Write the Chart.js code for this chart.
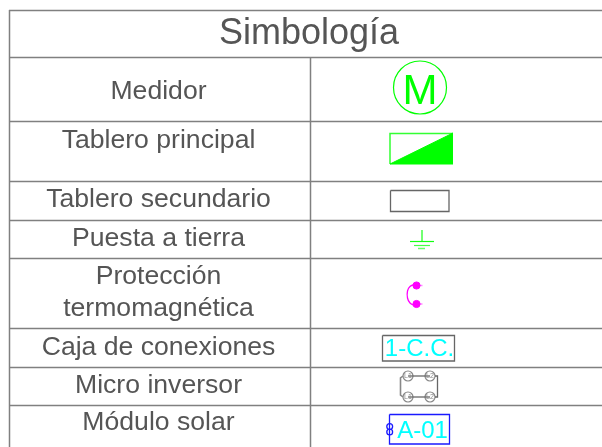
<!DOCTYPE html>
<html>
<head>
<meta charset="utf-8">
<style>
html,body{margin:0;padding:0;background:#fff}
canvas{display:block}
</style>
<script src="https://cdn.jsdelivr.net/npm/chart.js@4/dist/chart.umd.min.js"></script>
</head>
<body>
<canvas id="simbologia" width="602" height="447"></canvas>
<script>
// table text
const titleText = "Simbología"
const rowLabels = ["Medidor","Tablero principal","Tablero secundario","Puesta a tierra","Protección","termomagnética","Caja de conexiones","Micro inversor","Módulo solar"]
const rowLabelY = [92,141,200,239,277,309,348,386,423]
const symbolTexts = ["M","1-C.C.","A-01"]

// table rules, in axis units
const rowLineY = [10,57,121,181,220,258,328,367,405]
const columnLineX = [9,310]

const GREEN = "#00ff00"
const GREY = "#666666"
const RULE = "#808080"
const BLUE = "#1a1aff"
const MAGENTA = "#ff00ff"
const CYAN = "#00ffff"
const TEXT = "#555555"

const datasets = []

function line(points,color,width,extra){
  datasets.push(Object.assign({
    data:points.map(p=>({x:p[0],y:p[1]})),
    showLine:true,borderColor:color,borderWidth:width,pointRadius:0,fill:false
  },extra||{}))
}

function circle(x,y,r,color,width,bg){
  datasets.push({
    data:[{x:x,y:y}],showLine:false,pointStyle:"circle",pointRadius:r,
    pointBorderColor:color,pointBorderWidth:width,pointBackgroundColor:bg||"rgba(0,0,0,0)"
  })
}

function box(x1,y1,x2,y2,color,width){
  line([[x1,y1],[x2,y1],[x2,y2],[x1,y2],[x1,y1]],color,width)
}

// grid
rowLineY.forEach(y=>line([[columnLineX[0],y+0.5],[602,y+0.5]],RULE,1.5))
line([[columnLineX[0]+0.5,10],[columnLineX[0]+0.5,447]],RULE,1.5)
line([[columnLineX[1]+0.5,57],[columnLineX[1]+0.5,447]],RULE,1.5)

// medidor
circle(420,87.5,26.5,GREEN,1.2)

// tablero principal
line([[390,164],[453,133]],GREEN,1)
line([[390,164],[453,164]],GREEN,1,{fill:"-1",backgroundColor:GREEN})
line([[390,164],[390,133.5],[453,133.5]],"#33ff33",1.5)

// tablero secundario
box(390.5,190.5,449,211.5,GREY,1.3)

// puesta a tierra
line([[422,230],[422,241]],"#44ff44",1.5)
line([[410,241.5],[434,241.5]],"#11ff11",1.2)
line([[414,245.5],[430,245.5]],"#44ff44",1.2)
line([[418,248.5],[425,248.5]],"#66ff66",1.5)

// proteccion
line([[415,284],[410,286.5],[407.5,291],[407.5,298],[410,303],[415,306]],MAGENTA,1.3,{tension:0.4})
circle(416.5,285.5,3.6,MAGENTA,1,MAGENTA)
circle(416.5,304,3.6,MAGENTA,1,MAGENTA)
line([[417,285.5],[422.5,285.5]],"#ff88ff",1.5)
line([[417,304],[422.5,304]],"#ff88ff",1.5)

// caja de conexiones
box(382.5,335.5,454.5,361,GREY,1.3)

// micro inversor
line([[408,376],[430,376]],GREY,1.3)
line([[408,397],[430,397]],GREY,1.3)
line([[403,376],[400.5,378],[400.5,395],[403,397]],"#888888",1.6)
line([[435,376],[437.5,376],[437.5,397],[435,397]],GREY,1.3)
circle(408,376,5,"#888888",1.2,"#ffffff")
circle(430,376,5,"#888888",1.2,"#ffffff")
circle(408,397,5,"#888888",1.2,"#ffffff")
circle(430,397,5,"#888888",1.2,"#ffffff")

// modulo solar
box(389.5,414.5,449.5,444,BLUE,1.3)
circle(389.7,426.5,2.9,BLUE,1.3,"#ffffff")
circle(389.7,432,2.9,BLUE,1.3,"#ffffff")
line([[387.7,426.5],[391.7,426.5]],BLUE,1)
line([[389.7,424.5],[389.7,428.5]],BLUE,1)
line([[387.7,432],[391.7,432]],BLUE,1)

const textPlugin = {
  id:"tableText",
  afterDatasetsDraw(chart){
    const c = chart.ctx, sx = chart.scales.x, sy = chart.scales.y
    function put(t,x,y,size,color){
      c.font = size+"px 'Liberation Sans', Arial, sans-serif"
      c.fillStyle = color
      c.textAlign = "center"
      c.textBaseline = "middle"
      c.fillText(t,sx.getPixelForValue(x),sy.getPixelForValue(y))
    }
    c.save()
    put(titleText,309,34,36,TEXT)
    rowLabels.forEach((t,i)=>put(t,158.5,rowLabelY[i],26.6,TEXT))
    put(symbolTexts[0],420,92,42,GREEN)
    put(symbolTexts[1],419.5,349.5,24,CYAN)
    put(symbolTexts[2],422.5,431.5,24,CYAN)
    ;[[408,376,"L1"],[430,376,"L2"],[408,397,"L1"],[430,397,"L2"]].forEach(p=>put(p[2],p[0],p[1],7,"#888888"))
    c.restore()
  }
}

new Chart(document.getElementById("simbologia"),{
  type:"scatter",
  data:{datasets:datasets},
  options:{
    responsive:false,
    animation:false,
    layout:{padding:0,autoPadding:false},
    plugins:{legend:{display:false},tooltip:{enabled:false}},
    scales:{
      x:{type:"linear",display:false,min:0,max:602},
      y:{type:"linear",display:false,min:0,max:447,reverse:true}
    }
  },
  plugins:[textPlugin]
})
</script>
</body>
</html>
